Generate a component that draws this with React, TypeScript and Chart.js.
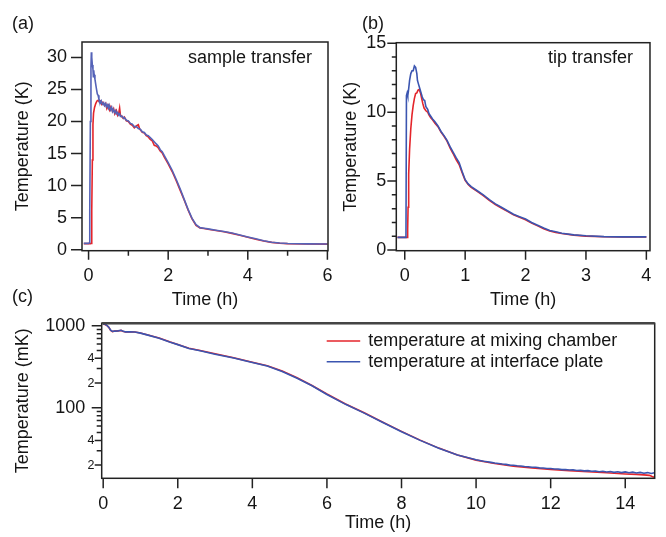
import { useEffect, useRef } from 'react';
import { Chart, registerables } from 'chart.js';
Chart.register(...registerables);

const FONT = "'Liberation Sans', Arial, Helvetica, sans-serif";
const INK = '#151515';
const AXIS = '#222222';
const RED = '#e4252b';
const BLUE_A = '#5563b8';
const BLUE = '#3b55b0';

// ---------- Panel (a): sample transfer ----------
const aBlueT = [-0.12, 0.0, 0.02, 0.03, 0.045, 0.06, 0.07, 0.08, 0.095, 0.11, 0.12, 0.13, 0.14, 0.16, 0.18, 0.2, 0.22, 0.24, 0.26, 0.28, 0.3,
  0.32, 0.35, 0.38, 0.4, 0.43, 0.45, 0.48, 0.5, 0.52, 0.55, 0.58, 0.6, 0.62, 0.65, 0.68, 0.7, 0.73, 0.75, 0.78, 0.8, 0.85, 0.88, 0.9, 0.95,
  1.0, 1.05, 1.1, 1.15, 1.2, 1.25, 1.3, 1.35, 1.4, 1.45, 1.5, 1.6, 1.7, 1.75, 1.8, 1.85, 1.9, 2.0, 2.1, 2.2, 2.3, 2.4, 2.5, 2.6, 2.7, 2.8,
  2.9, 3.0, 3.2, 3.4, 3.6, 3.8, 4.0, 4.2, 4.4, 4.6, 4.8, 5.0, 5.5, 6.0];
const aBlueV = [1.0, 1.0, 1.1, 6, 20, 28.5, 30.8, 30.0, 28.8, 28.2, 27.0, 28.0, 27.3, 26.6, 25.8, 25.0, 24.3, 24.1, 23.5, 23.2, 22.9,
  23.2, 22.7, 22.9, 22.5, 22.8, 22.3, 22.6, 22.1, 22.5, 21.8, 22.2, 21.6, 21.9, 21.4, 21.7, 21.2, 21.4, 21.0, 21.2, 20.8, 20.8, 20.5, 20.6, 20.2,
  20.1, 19.7, 19.6, 19.2, 19.2, 18.9, 18.8, 18.4, 18.3, 17.9, 17.8, 17.2, 16.5, 16.2, 15.6, 15.3, 14.7, 13.6, 12.4, 11.0, 9.5, 7.9, 6.3, 4.9, 3.9, 3.45,
  3.35, 3.25, 3.05, 2.85, 2.6, 2.3, 2.0, 1.7, 1.4, 1.18, 1.05, 0.98, 0.92, 0.9];
const aRedT = [-0.12, 0.05, 0.065, 0.08, 0.095, 0.11, 0.125, 0.15, 0.18, 0.21, 0.24, 0.27, 0.3, 0.33, 0.36, 0.4, 0.43, 0.46, 0.5, 0.53, 0.56,
  0.6, 0.63, 0.66, 0.7, 0.73, 0.76, 0.78, 0.8, 0.83, 0.87, 0.9, 0.95, 1.0, 1.05, 1.1, 1.15, 1.2, 1.25, 1.28, 1.3, 1.35, 1.4, 1.45, 1.5, 1.55,
  1.6, 1.65, 1.7, 1.75, 1.8, 1.85, 1.9, 2.0, 2.1, 2.2, 2.3, 2.4, 2.5, 2.6, 2.7, 2.8, 2.9, 3.0, 3.2, 3.4, 3.6, 3.8, 4.0, 4.2, 4.4, 4.6, 4.8,
  5.0, 5.5, 6.0];
const aRedV = [0.95, 0.95, 1.0, 6, 14, 19.5, 21.3, 22.2, 22.8, 23.2, 23.3, 23.1, 23.2, 22.7, 23.0, 22.5, 22.8, 22.0, 22.5, 21.8, 22.3,
  21.6, 22.0, 21.2, 21.7, 21.0, 21.4, 22.1, 21.0, 20.8, 20.5, 20.7, 20.1, 20.0, 19.6, 19.4, 19.0, 19.3, 19.5, 18.9, 18.7, 18.3, 18.2, 17.8, 17.6, 17.2,
  17.0, 16.3, 16.2, 15.9, 15.4, 15.1, 14.5, 13.4, 12.2, 10.8, 9.3, 7.8, 6.2, 4.8, 3.8, 3.4, 3.3, 3.2, 3.0, 2.8, 2.55, 2.25, 1.95, 1.65, 1.35, 1.15, 1.02,
  0.95, 0.9, 0.88];
const aXTicks = [0, 1, 2, 3, 4, 5, 6];
const aXLabels = ['0', '', '2', '', '4', '', '6'];
const aYTicks = [0, 5, 10, 15, 20, 25, 30];
const aYLabels = ['0', '5', '10', '15', '20', '25', '30'];

// ---------- Panel (b): tip transfer ----------
const bBlueT = [-0.12, 0.02, 0.028, 0.04, 0.05, 0.06, 0.08, 0.1, 0.12, 0.14, 0.16, 0.18, 0.2, 0.21, 0.23, 0.25, 0.27, 0.29, 0.31, 0.33, 0.35,
  0.38, 0.4, 0.43, 0.46, 0.5, 0.55, 0.6, 0.65, 0.7, 0.75, 0.8, 0.85, 0.9, 0.95, 1.0, 1.05, 1.1, 1.2, 1.3, 1.4, 1.5, 1.6, 1.7, 1.8, 1.9,
  2.0, 2.1, 2.2, 2.3, 2.4, 2.5, 2.6, 2.8, 3.0, 3.3, 3.6, 4.0];
const bBlueV = [0.92, 0.92, 11.2, 11.4, 11.2, 11.5, 12.3, 12.8, 13.0, 13.0, 13.35, 13.25, 12.8, 12.3, 12.0, 11.7, 11.4, 11.1, 10.9, 10.85, 10.4,
  10.2, 9.9, 9.7, 9.5, 9.3, 9.0, 8.6, 8.3, 7.95, 7.5, 7.1, 6.7, 6.35, 5.7, 5.1, 4.8, 4.6, 4.3, 4.0, 3.65, 3.35, 3.1, 2.85, 2.6, 2.42,
  2.25, 2.0, 1.8, 1.6, 1.42, 1.32, 1.22, 1.1, 1.03, 0.97, 0.95, 0.95];
const bRedT = [-0.12, 0.04, 0.048, 0.055, 0.065, 0.08, 0.1, 0.12, 0.14, 0.16, 0.18, 0.2, 0.22, 0.24, 0.26, 0.28, 0.3, 0.32, 0.35, 0.38, 0.4,
  0.43, 0.46, 0.5, 0.55, 0.6, 0.65, 0.7, 0.75, 0.8, 0.85, 0.9, 0.95, 1.0, 1.05, 1.1, 1.2, 1.3, 1.4, 1.5, 1.6, 1.7, 1.8, 1.9, 2.0, 2.1,
  2.2, 2.3, 2.4, 2.5, 2.6, 2.8, 3.0, 3.3, 3.6, 4.0];
const bRedV = [0.92, 0.92, 1.5, 3.1, 5.5, 7.3, 8.8, 9.8, 10.5, 11.0, 11.35, 11.4, 11.6, 11.65, 11.4, 11.0, 10.6, 10.3, 10.1, 10.0, 9.8,
  9.6, 9.45, 9.2, 8.95, 8.55, 8.25, 7.9, 7.4, 7.0, 6.55, 6.2, 5.6, 5.05, 4.75, 4.55, 4.25, 3.95, 3.6, 3.3, 3.05, 2.8, 2.55, 2.38, 2.2, 1.95,
  1.75, 1.55, 1.38, 1.28, 1.2, 1.08, 1.01, 0.96, 0.94, 0.94];
const bXTicks = [0, 1, 2, 3, 4];
const bXLabels = ['0', '1', '2', '3', '4'];
const bYTicks = [0, 1, 2, 3, 4, 5, 6, 7, 8, 9, 10, 11, 12, 13, 14, 15];
const bYLabels = ['0', '', '', '', '', '5', '', '', '', '', '10', '', '', '', '', '15'];

// ---------- Panel (c): cooldown (log scale, mK) ----------
const cBlueT = [0, 0.05, 0.1, 0.15, 0.2, 0.25, 0.3, 0.4, 0.48, 0.52, 0.6, 0.7, 0.85, 1.0, 1.2, 1.5, 1.8, 2.0, 2.3, 2.6, 3.0, 3.5, 4.0,
  4.4, 4.8, 5.2, 5.6, 6.0, 6.5, 7.0, 7.5, 8.0, 8.5, 9.0, 9.5,
  10.0, 10.1, 10.2, 10.3, 10.4, 10.5, 10.6, 10.7, 10.8, 10.9, 11.0, 11.1, 11.2, 11.3, 11.4, 11.5, 11.6, 11.7, 11.8, 11.9,
  12.0, 12.1, 12.2, 12.3, 12.4, 12.5, 12.6, 12.7, 12.8, 12.9, 13.0, 13.1, 13.2, 13.3, 13.4, 13.5, 13.6, 13.7, 13.8, 13.9,
  14.0, 14.1, 14.2, 14.3, 14.4, 14.5, 14.6, 14.7, 14.78];
const cBlueV = [1050, 1040, 1010, 960, 880, 850, 860, 865, 880, 860, 840, 845, 840, 812, 768, 705, 630, 588, 528, 494, 450, 404, 356,
  322, 277, 229, 185, 145, 110, 86, 66, 51, 40, 32, 26.5,
  23.2, 22.8, 22.3, 22.0, 21.6, 21.2, 20.9, 20.6, 20.4, 20.0, 19.9, 19.6, 19.5, 19.2, 19.1, 18.8, 18.8, 18.5, 18.4, 18.2,
  18.2, 17.9, 17.9, 17.6, 17.7, 17.4, 17.5, 17.2, 17.3, 17.0, 17.1, 16.8, 16.9, 16.6, 16.8, 16.5, 16.7, 16.3, 16.6, 16.2,
  16.5, 16.1, 16.4, 16.0, 16.3, 15.9, 16.2, 15.8, 16.1];
const cRedT = [0, 0.05, 0.1, 0.15, 0.2, 0.25, 0.3, 0.4, 0.48, 0.52, 0.6, 0.7, 0.85, 1.0, 1.2, 1.5, 1.8, 2.0, 2.3, 2.6, 3.0, 3.5, 4.0,
  4.4, 4.8, 5.2, 5.6, 6.0, 6.5, 7.0, 7.5, 8.0, 8.5, 9.0, 9.5, 10.0, 10.5, 11.0, 11.5, 12.0, 12.5, 13.0, 13.5, 14.0, 14.3, 14.5, 14.65, 14.72, 14.78];
const cRedV = [1045, 1035, 1005, 955, 878, 848, 858, 864, 878, 858, 838, 843, 838, 815, 772, 710, 634, 592, 532, 498, 454, 407, 359,
  325, 280, 232, 187, 147, 111, 87, 66.5, 51.5, 40.3, 32.2, 26.6, 23.0, 20.9, 19.4, 18.4, 17.7, 17.1, 16.6, 16.1, 15.6, 15.4, 15.2, 15.0, 14.5, 14.2];
const cXTicks = [0, 2, 4, 6, 8, 10, 12, 14];
const cXLabels = ['0', '2', '4', '6', '8', '10', '12', '14'];
const cYTicks = [20, 30, 40, 50, 60, 70, 80, 90, 100, 200, 300, 400, 500, 600, 700, 800, 900, 1000];
const cYLabels = ['2', '', '4', '', '', '', '', '', '100', '2', '', '4', '', '', '', '', '', '1000'];

const seriesNames = ['temperature at mixing chamber', 'temperature at interface plate'];

function pts(t: number[], v: number[]) {
  return t.map((x, i) => ({ x, y: v[i] }));
}

function lineDs(label: string, t: number[], v: number[], color: string) {
  return {
    label,
    data: pts(t, v),
    borderColor: color,
    backgroundColor: color,
    borderWidth: 1.6,
    pointRadius: 0,
    tension: 0,
    fill: false,
  };
}

type Mark = { v: number; len: number };

function makePlugin(id: string, xMarks: Mark[], yMarks: Mark[], extra?: (ctx: CanvasRenderingContext2D, ca: any, chart: any) => void) {
  return {
    id,
    afterDraw(chart: any) {
      const { ctx, chartArea: ca, scales } = chart;
      const xs = scales.x;
      const ys = scales.y;
      ctx.save();
      ctx.strokeStyle = AXIS;
      ctx.lineWidth = 1.5;
      ctx.strokeRect(ca.left, ca.top, ca.right - ca.left, ca.bottom - ca.top);
      ctx.beginPath();
      xMarks.forEach((m) => {
        const px = xs.getPixelForValue(m.v);
        ctx.moveTo(px, ca.bottom);
        ctx.lineTo(px, ca.bottom + m.len);
      });
      yMarks.forEach((m) => {
        const py = ys.getPixelForValue(m.v);
        ctx.moveTo(ca.left - m.len, py);
        ctx.lineTo(ca.left, py);
      });
      ctx.stroke();
      if (extra) extra(ctx, ca, chart);
      ctx.restore();
    },
  };
}

function axisTitle(text: string, pad: any) {
  return { display: true, text, color: INK, font: { family: FONT, size: 18 }, padding: pad };
}

function baseConfig(opts: any) {
  const { datasets, padding, xMin, xMax, xTicks, xLabels, xHeight, yType, yMin, yMax, yTicks, yLabels, yWidth, yPad,
    yTitle, yTitlePad, xTitlePad, plugin, yCallback } = opts;
  return {
    type: 'line',
    data: { datasets },
    options: {
      animation: false,
      responsive: false,
      events: [],
      layout: { padding },
      plugins: { legend: { display: false }, tooltip: { enabled: false } },
      scales: {
        x: {
          type: 'linear',
          min: xMin,
          max: xMax,
          afterFit: (s: any) => { s.height = xHeight; },
          afterBuildTicks: (s: any) => { s.ticks = xTicks.map((v: number) => ({ value: v })); },
          ticks: {
            autoSkip: false, maxRotation: 0, minRotation: 0, padding: 14.5, color: INK,
            font: { family: FONT, size: 18 },
            callback: (v: number) => { const i = xTicks.indexOf(v); return i >= 0 ? xLabels[i] : ''; },
          },
          grid: { display: false, drawTicks: false },
          border: { display: false },
          title: axisTitle('Time (h)', { top: 0, bottom: xTitlePad }),
        },
        y: {
          type: yType,
          min: yMin,
          max: yMax,
          afterFit: (s: any) => { s.width = yWidth; },
          afterBuildTicks: (s: any) => { s.ticks = yTicks.map((v: number) => ({ value: v })); },
          ticks: {
            autoSkip: false, padding: yPad, color: INK,
            font: { family: FONT, size: 18 },
            callback: yCallback || ((v: number) => { const i = yTicks.indexOf(v); return i >= 0 ? yLabels[i] : ''; }),
          },
          grid: { display: false, drawTicks: false },
          border: { display: false },
          title: axisTitle(yTitle, { top: yTitlePad, bottom: 0 }),
        },
      },
    },
    plugins: [plugin],
  };
}

function cfgA() {
  const plugin = makePlugin(
    'frameA',
    aXTicks.map((v, i) => ({ v, len: aXLabels[i] ? 9 : 5 })),
    aYTicks.map((v) => ({ v, len: 11 })),
    (ctx, ca) => {
      ctx.fillStyle = INK;
      ctx.font = `18px ${FONT}`;
      ctx.textBaseline = 'alphabetic';
      ctx.textAlign = 'left';
      ctx.fillText('(a)', 12, 28.5);
      ctx.textAlign = 'right';
      ctx.fillText('sample transfer', ca.right - 16, ca.top + 21);
    }
  );
  return baseConfig({
    datasets: [lineDs(seriesNames[1], aBlueT, aBlueV, BLUE_A), lineDs(seriesNames[0], aRedT, aRedV, RED)],
    padding: { left: 0, top: 42, right: 666 - 328, bottom: 537 - 312 },
    xMin: -0.165, xMax: 6.015, xTicks: aXTicks, xLabels: aXLabels, xHeight: 312 - 250.7,
    yType: 'linear', yMin: -0.15, yMax: 32.4, yTicks: aYTicks, yLabels: aYLabels, yWidth: 82, yPad: 15,
    yTitle: 'Temperature (K)', yTitlePad: 12.2, xTitlePad: 1.2, plugin,
  });
}

function cfgB() {
  const plugin = makePlugin(
    'frameB',
    bXTicks.map((v) => ({ v, len: 9 })),
    bYTicks.map((v, i) => ({ v, len: bYLabels[i] ? 9 : 4.5 })),
    (ctx, ca) => {
      ctx.fillStyle = INK;
      ctx.font = `18px ${FONT}`;
      ctx.textBaseline = 'alphabetic';
      ctx.textAlign = 'left';
      ctx.fillText('(b)', 362, 28.5);
      ctx.textAlign = 'right';
      ctx.fillText('tip transfer', ca.right - 17, ca.top + 20);
    }
  );
  return baseConfig({
    datasets: [lineDs(seriesNames[1], bBlueT, bBlueV, BLUE), lineDs(seriesNames[0], bRedT, bRedV, RED)],
    padding: { left: 333, top: 42.7, right: 666 - 657, bottom: 537 - 312 },
    xMin: -0.14, xMax: 4.06, xTicks: bXTicks, xLabels: bXLabels, xHeight: 312 - 250.7,
    yType: 'linear', yMin: -0.05, yMax: 15.04, yTicks: bYTicks, yLabels: bYLabels, yWidth: 396.3 - 333, yPad: 10,
    yTitle: 'Temperature (K)', yTitlePad: 7.5, xTitlePad: 1.2, plugin,
  });
}

function cfgC() {
  const plugin = makePlugin(
    'frameC',
    cXTicks.map((v) => ({ v, len: 10 })),
    cYTicks.map((v, i) => ({ v, len: cYLabels[i].length > 1 ? 10 : cYLabels[i] ? 7 : 5 })),
    (ctx, ca, chart) => {
      const ys = chart.scales.y;
      // thicker top border
      ctx.strokeStyle = '#444';
      ctx.lineWidth = 2.4;
      ctx.beginPath();
      ctx.moveTo(ca.left, ca.top);
      ctx.lineTo(ca.right, ca.top);
      ctx.stroke();
      // small mantissa labels
      ctx.fillStyle = INK;
      ctx.font = `12.5px ${FONT}`;
      ctx.textAlign = 'right';
      ctx.textBaseline = 'middle';
      cYTicks.forEach((v, i) => {
        const l = cYLabels[i];
        if (l.length === 1) ctx.fillText(l, ca.left - 7.3, ys.getPixelForValue(v));
      });
      // panel letter
      ctx.font = `18px ${FONT}`;
      ctx.textAlign = 'left';
      ctx.textBaseline = 'alphabetic';
      ctx.fillText('(c)', 12, 301.5);
      // legend
      const ds = chart.data.datasets;
      const order = [1, 0];
      ctx.textBaseline = 'middle';
      order.forEach((di, k) => {
        const d = ds[di];
        const y = ca.top + 17.7 + k * 20.7;
        ctx.strokeStyle = d.borderColor;
        ctx.lineWidth = 1.6;
        ctx.beginPath();
        ctx.moveTo(ca.left + 225, y);
        ctx.lineTo(ca.left + 258.5, y);
        ctx.stroke();
        ctx.fillStyle = INK;
        ctx.fillText(d.label, ca.left + 266.5, y);
      });
    }
  );
  return baseConfig({
    datasets: [lineDs(seriesNames[1], cBlueT, cBlueV, BLUE), lineDs(seriesNames[0], cRedT, cRedV, RED)],
    padding: { left: 0, top: 323.3, right: 666 - 654.7, bottom: 0 },
    xMin: -0.04, xMax: 14.79, xTicks: cXTicks, xLabels: cXLabels, xHeight: 537 - 478.3,
    yType: 'logarithmic', yMin: 13.8, yMax: 1070, yTicks: cYTicks, yLabels: cYLabels, yWidth: 101.7, yPad: 16.5,
    yTitle: 'Temperature (mK)', yTitlePad: 12.5, xTitlePad: 2.9, plugin,
    yCallback: (v: number) => {
      const i = cYTicks.findIndex((t) => Math.abs(t - v) < 1e-6);
      return i >= 0 && cYLabels[i].length > 1 ? cYLabels[i] : '';
    },
  });
}

export default function App() {
  const refA = useRef<HTMLCanvasElement>(null);
  const refB = useRef<HTMLCanvasElement>(null);
  const refC = useRef<HTMLCanvasElement>(null);
  useEffect(() => {
    const charts = [
      new Chart(refA.current as HTMLCanvasElement, cfgA() as any),
      new Chart(refB.current as HTMLCanvasElement, cfgB() as any),
      new Chart(refC.current as HTMLCanvasElement, cfgC() as any),
    ];
    return () => charts.forEach((c) => c.destroy());
  }, []);
  const cs: any = { position: 'absolute', left: 0, top: 0, width: 666, height: 537 };
  return (
    <div style={{ position: 'fixed', left: 0, top: 0, width: 666, height: 537, background: '#fff' }}>
      <canvas ref={refA} width={666} height={537} style={cs} />
      <canvas ref={refB} width={666} height={537} style={cs} />
      <canvas ref={refC} width={666} height={537} style={cs} />
    </div>
  );
}
